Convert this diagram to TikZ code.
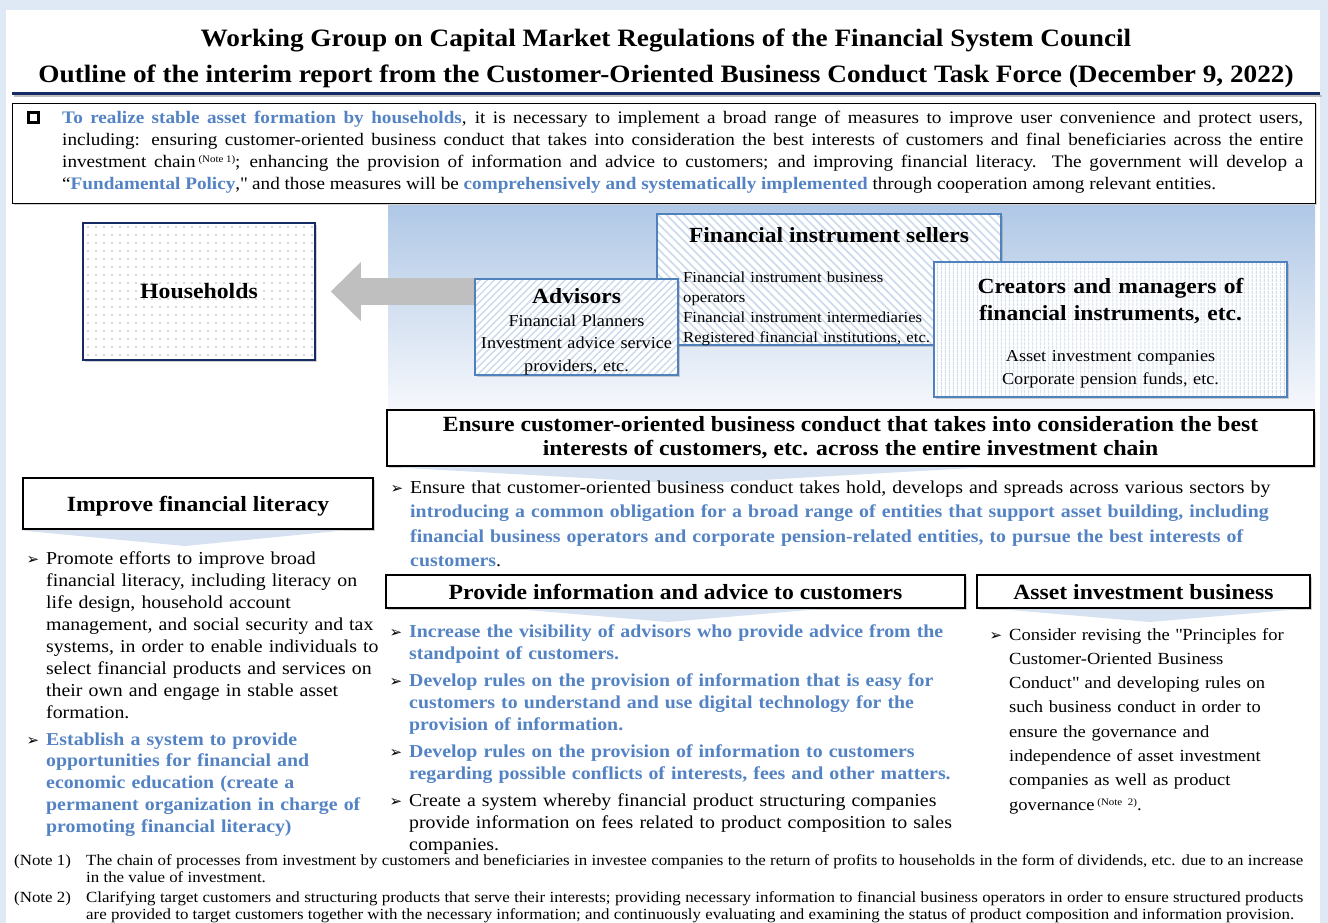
\documentclass[tikz,border=0pt]{standalone}
\usepackage{fontspec}
\setmainfont{Liberation Serif}[FakeStretch=1.09]
\newfontfamily\symfont{DejaVu Sans}
\usetikzlibrary{shadows,patterns.meta,arrows.meta}

\definecolor{bgblue}{RGB}{222,233,245}
\definecolor{navy}{RGB}{22,42,100}
\definecolor{accent}{RGB}{84,131,196}
\definecolor{edgeblue}{RGB}{79,129,189}
\definecolor{hatch}{RGB}{203,217,236}
\definecolor{gradtop}{RGB}{176,200,230}
\definecolor{gradbot}{RGB}{246,248,252}
\definecolor{wedge}{RGB}{214,226,241}
\definecolor{arrowgray}{RGB}{191,191,191}

\newcommand\arr{\leavevmode\llap{{\symfont\fontsize{15}{15}\selectfont ➢}\hspace{7pt}}}
\newcommand\hl[1]{\textbf{\color{accent}#1}}
\newcommand\noteref[1]{\,\raisebox{5pt}{\fontsize{10}{10}\selectfont(Note #1)}}

\begin{document}
\begin{tikzpicture}[x=1pt,y=-1pt,
  shadowed/.style={drop shadow={shadow xshift=1.5pt,shadow yshift=-1.5pt,opacity=.35}},
  headbox/.style={draw, line width=2.5pt, fill=white, shadowed, align=center, inner sep=0pt,
    font=\fontsize{21.7}{24}\selectfont\bfseries},
  actorbox/.style={draw=edgeblue, line width=1.2pt, inner sep=0pt, shadowed, preaction={fill=white}},
  boxtitle/.style={anchor=base, inner sep=0pt, align=center, font=\fontsize{21.6}{27}\selectfont\bfseries},
  bullets/.style={anchor=base west, inner sep=0pt, align=left, font=\fontsize{18.2}{22}\selectfont},
  note/.style={anchor=base west, inner sep=0pt, font=\fontsize{15.5}{17}\selectfont},
]
\useasboundingbox (0,0) rectangle (1328,923);
\fill[bgblue] (0,0) rectangle (1328,923);
\fill[white] (6,10) rectangle (1320,923);

% title
\node(title1)[anchor=base, inner sep=0pt, font=\fontsize{25}{30}\selectfont\bfseries] at (666,47)
  {Working Group on Capital Market Regulations of the Financial System Council};
\node(title2)[anchor=base, inner sep=0pt, font=\fontsize{25}{30}\selectfont\bfseries] at (666,83)
  {Outline of the interim report from the Customer-Oriented Business Conduct Task Force (December 9, 2022)};
\draw[black!25, line width=2pt] (14,96.5) -- (1322,96.5);
\draw[navy, line width=3pt] (12,93.5) -- (1320,93.5);

% summary
\node(intro)[draw, fill=white, shadowed, minimum width=1303pt, minimum height=100pt] at (663.5,153) {};
\node(chk)[draw, line width=2.2pt, minimum size=10pt, inner sep=0pt] at (33.5,117.5) {};
\node(introtext)[anchor=base west, inner sep=0pt, text width=1241pt, align=justify,
  font=\fontsize{17.6}{22}\selectfont] at (62,124)
  {\hl{To realize stable asset formation by households}, it is necessary to implement a broad range of measures to improve user convenience and protect users,\linebreak
  including: ensuring customer-oriented business conduct that takes into consideration the best interests of customers and final beneficiaries across the entire\linebreak
  investment chain\noteref{1}; enhancing the provision of information and advice to customers; and improving financial literacy. The government will develop a\linebreak
  “\hl{Fundamental Policy},\textquotedbl{} and those measures will be \hl{comprehensively and systematically implemented} through cooperation among relevant entities.};

% investment chain
\shade[top color=gradtop, bottom color=gradbot] (388,205) rectangle (1315,410);
\node(hh)[draw=navy, line width=1.5pt, shadowed, preaction={fill=white},
  pattern={Dots[radius=0.7pt,distance=8pt]}, pattern color=navy!80,
  minimum width=232pt, minimum height=137pt, font=\fontsize{21.8}{24}\selectfont\bfseries] at (199,291.5) {Households};
\coordinate(arrtail) at (480,291.5);
\draw[arrowgray, line width=27pt, -{Triangle[length=30pt,width=57pt]}, shorten >=15pt] (arrtail) -- (hh.east);

\node(sell)[actorbox, pattern={Lines[angle=-45,distance=6pt,line width=1.6pt]}, pattern color=hatch,
  minimum width=344pt, minimum height=131pt] at (829,279.5) {};
\node(selltitle)[boxtitle] at (829,242) {Financial instrument sellers};
\node(selllist)[anchor=base west, inner sep=0pt, text width=300pt, align=left,
  font=\fontsize{15.3}{20.3}\selectfont] at (683,282)
  {Financial instrument business\\operators\\Financial instrument intermediaries\\Registered financial institutions, etc.};

\node(adv)[actorbox, pattern={Lines[angle=45,distance=5pt,line width=1.4pt]}, pattern color=hatch,
  minimum width=203pt, minimum height=96pt] at (576.5,327) {};
\node(advtitle)[boxtitle] at (576.5,303) {Advisors};
\node(advlist)[anchor=base, inner sep=0pt, text width=203pt, align=center,
  font=\fontsize{16.7}{22.5}\selectfont] at (576.5,326)
  {Financial Planners\\Investment advice service\\providers, etc.};

\node(crea)[actorbox, pattern={Lines[angle=90,distance=4pt,line width=1pt]}, pattern color=hatch,
  minimum width=353pt, minimum height=135pt] at (1110.5,329.5) {};
\node(creatitle)[boxtitle, text width=340pt] at (1110.5,293)
  {Creators and managers of\\financial instruments, etc.};
\node(crealist)[anchor=base, inner sep=0pt, text width=340pt, align=center,
  font=\fontsize{16.7}{23}\selectfont] at (1110.5,361)
  {Asset investment companies\\Corporate pension funds, etc.};

% headings
\node(chain)[headbox, minimum width=927pt, minimum height=56pt] at (850.5,438)
  {Ensure customer-oriented business conduct that takes into consideration the best\\
   interests of customers, etc. across the entire investment chain};
\node(lit)[headbox, text depth=0pt, minimum width=350pt, minimum height=51pt] at (198,503.5) {Improve financial literacy};
\node(info)[headbox, text depth=0pt, minimum width=579pt, minimum height=33pt] at (675.5,591.5) {Provide information and advice to customers};
\node(asset)[headbox, text depth=0pt, minimum width=333pt, minimum height=33pt] at (1143.5,591.5) {Asset investment business};

\fill[wedge] ([xshift=8pt]chain.south west) -- (990,467) -- (692,484) -- cycle;
\fill[wedge] ([xshift=-3pt]lit.south west) -- ([xshift=-29pt]lit.south east) -- (185,546) -- cycle;
\fill[wedge] ([xshift=134pt]info.south west) -- ([xshift=-149pt]info.south east) -- (668,622) -- cycle;
\fill[wedge] ([xshift=26pt]asset.south west) -- ([xshift=-13pt]asset.south east) -- (1150,622) -- cycle;

% bullets
\node(chainpts)[bullets, text width=910pt, font=\fontsize{18.2}{24.5}\selectfont] at (410,493)
  {\arr Ensure that customer-oriented business conduct takes hold, develops and spreads across various sectors by\\
   \hl{introducing a common obligation for a broad range of entities that support asset building, including}\\
   \hl{financial business operators and corporate pension-related entities, to pursue the best interests of}\\
   \hl{customers}.};

\node(litpt1)[bullets, text width=345pt] at (46,564)
  {\arr Promote efforts to improve broad\\financial literacy, including literacy on\\life design, household account\\
   management, and social security and tax\\systems, in order to enable individuals to\\select financial products and services on\\
   their own and engage in stable asset\\formation.};
\node(litpt2)[bullets, text width=345pt, font=\fontsize{18.2}{21.75}\selectfont] at (46,745)
  {\arr\hl{Establish a system to provide}\\\hl{opportunities for financial and}\\\hl{economic education (create a}\\
   \hl{permanent organization in charge of}\\\hl{promoting financial literacy)}};

\node(infopt1)[bullets, text width=570pt] at (409,637)
  {\arr\hl{Increase the visibility of advisors who provide advice from the}\\\hl{standpoint of customers.}};
\node(infopt2)[bullets, text width=570pt] at (409,686)
  {\arr\hl{Develop rules on the provision of information that is easy for}\\
   \hl{customers to understand and use digital technology for the}\\\hl{provision of information.}};
\node(infopt3)[bullets, text width=570pt] at (409,757)
  {\arr\hl{Develop rules on the provision of information to customers}\\
   \hl{regarding possible conflicts of interests, fees and other matters.}};
\node(infopt4)[bullets, text width=570pt] at (409,806)
  {\arr Create a system whereby financial product structuring companies\\
   provide information on fees related to product composition to sales\\companies.};

\node(assetpt)[bullets, text width=305pt, font=\fontsize{17}{24.3}\selectfont] at (1009,640)
  {\arr Consider revising the \textquotedbl Principles for\\Customer-Oriented Business\\Conduct\textquotedbl{} and developing rules on\\
   such business conduct in order to\\ensure the governance and\\independence of asset investment\\
   companies as well as product\\governance\noteref{2}.};

% notes
\node(note1)[note] at (14,865) {(Note 1)};
\node(note1text)[note, text width=1217pt, align=justify] at (86,865)
  {The chain of processes from investment by customers and beneficiaries in investee companies to the return of profits to households in the form of dividends, etc. due to an increase\linebreak
   in the value of investment.};
\node(note2)[note] at (14,902) {(Note 2)};
\node(note2text)[note, text width=1217pt, align=justify] at (86,902)
  {Clarifying target customers and structuring products that serve their interests; providing necessary information to financial business operators in order to ensure structured products\linebreak
   are provided to target customers together with the necessary information; and continuously evaluating and examining the status of product composition and information provision.};
\end{tikzpicture}
\end{document}
